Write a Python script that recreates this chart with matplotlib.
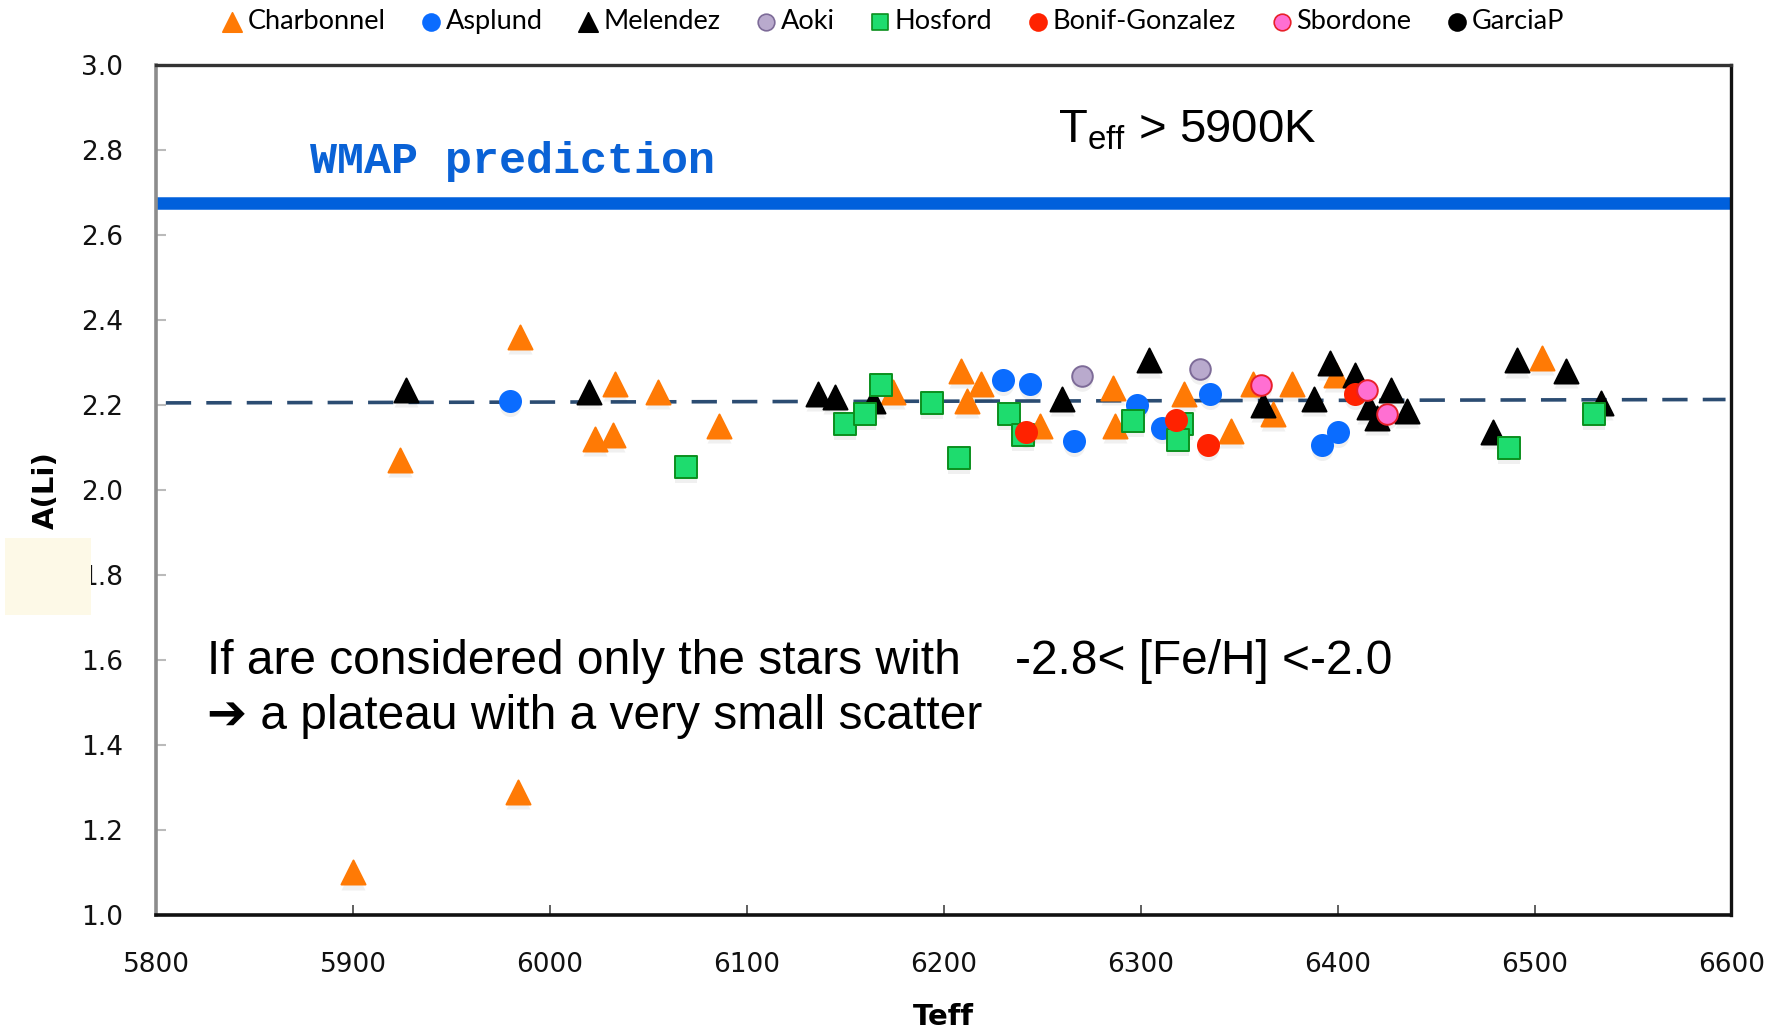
import matplotlib
matplotlib.use("Agg")
import matplotlib.pyplot as plt
from matplotlib.patches import Rectangle

# ---------------- data ----------------
charbonnel_teff = [5900, 5984, 5985, 5924, 6023, 6032, 6033, 6055, 6086, 6174, 6209, 6219, 6212,
                   6249, 6286, 6287, 6322, 6346, 6357, 6367, 6377, 6399, 6504]
charbonnel_ali = [1.10, 1.29, 2.36, 2.07, 2.12, 2.13, 2.25, 2.23, 2.15, 2.23, 2.28, 2.25, 2.21,
                  2.15, 2.24, 2.15, 2.225, 2.14, 2.25, 2.18, 2.25, 2.27, 2.31]

asplund_teff = [5980, 6230, 6244, 6266, 6298, 6311, 6335, 6392, 6400]
asplund_ali = [2.21, 2.26, 2.25, 2.115, 2.20, 2.145, 2.225, 2.107, 2.137]

melendez_teff = [5927, 6020, 6136, 6145, 6164, 6260, 6304, 6388, 6396, 6409, 6427, 6435, 6416,
                 6362, 6420, 6491, 6516, 6479, 6534]
melendez_ali = [2.235, 2.23, 2.225, 2.22, 2.21, 2.215, 2.305, 2.215, 2.30, 2.27, 2.235, 2.185,
                2.195, 2.20, 2.17, 2.305, 2.28, 2.137, 2.205]

aoki_teff = [6270, 6330]
aoki_ali = [2.268, 2.285]

hosford_teff = [6069, 6150, 6160, 6168, 6194, 6208, 6233, 6240, 6296, 6321, 6319, 6487, 6530]
hosford_ali = [2.055, 2.155, 2.18, 2.247, 2.205, 2.075, 2.18, 2.13, 2.163, 2.155, 2.118, 2.10, 2.18]

bonif_teff = [6242, 6318, 6334, 6409]
bonif_ali = [2.137, 2.165, 2.107, 2.225]

sbordone_teff = [6361, 6415, 6425]
sbordone_ali = [2.247, 2.235, 2.18]

garciap_teff = []
garciap_ali = []

wmap_value = 2.675
plateau_teff = [5805, 6597]
plateau_ali = [2.205, 2.213]

x_ticks = [5800, 5900, 6000, 6100, 6200, 6300, 6400, 6500, 6600]
y_ticks = [1.0, 1.2, 1.4, 1.6, 1.8, 2.0, 2.2, 2.4, 2.6, 2.8, 3.0]

# ---------------- figure ----------------
plt.rcParams['mathtext.fontset'] = 'custom'
plt.rcParams['mathtext.rm'] = 'Liberation Sans'
plt.rcParams['mathtext.it'] = 'Liberation Sans'

fig = plt.figure(figsize=(17.85, 10.33), dpi=100)
ax = fig.add_axes([0.0874, 0.1143, 0.8826, 0.8227])

ax.set_xlim(5800, 6600)
ax.set_ylim(1.0, 3.0)

# reference lines
ax.axhline(wmap_value, color='#0060DC', lw=9, zorder=2)
ax.plot(plateau_teff, plateau_ali, color='#2B4C72', lw=2.6, dashes=(7, 4.2), zorder=2)

series = [
    (charbonnel_teff, charbonnel_ali, '^', '#FF7A05', '#FF7A05', 'Charbonnel', 300),
    (asplund_teff, asplund_ali, 'o', '#0A6CFF', '#0A6CFF', 'Asplund', 230),
    (melendez_teff, melendez_ali, '^', '#000000', '#000000', 'Melendez', 300),
    (aoki_teff, aoki_ali, 'o', '#B9AACD', '#7D6B98', 'Aoki', 220),
    (hosford_teff, hosford_ali, 's', '#1EDC6E', '#0B8F1E', 'Hosford', 230),
    (bonif_teff, bonif_ali, 'o', '#FF2200', '#FF2200', 'Bonif-Gonzalez', 230),
    (sbordone_teff, sbordone_ali, 'o', '#FF6FD2', '#E8202A', 'Sbordone', 220),
    (garciap_teff, garciap_ali, 'o', '#000000', '#000000', 'GarciaP', 230),
]

handles = []
for i, (xs, ys, m, fc, ec, lab, s) in enumerate(series):
    # subtle drop shadow
    if len(xs):
        ax.scatter(xs, [y - 0.012 for y in ys], marker=m, s=s, c='#000000', alpha=0.06,
                   linewidths=0, zorder=3 + i * 0.1)
    ax.scatter(xs, ys, marker=m, s=s, c=fc, edgecolors=ec, linewidths=1.4,
               zorder=4 + i * 0.1)
    h = ax.scatter([], [], marker=m, s=s * 0.65, c=fc, edgecolors=ec, linewidths=1.2, label=lab)
    handles.append(h)

# ticks
ax.set_xticks(x_ticks)
ax.set_xticklabels([str(v) for v in x_ticks])
ax.set_yticks(y_ticks)
ax.set_yticklabels([f"{v:.1f}" for v in y_ticks])
ax.tick_params(axis='x', direction='in', length=7, width=1.2, color='#444444', pad=27,
               labelsize=19, labelcolor='#111111')
ax.tick_params(axis='y', direction='in', length=7, width=1.5, color='#BBBBBB', pad=24,
               labelsize=19, labelcolor='#111111')
for lab in ax.get_xticklabels() + ax.get_yticklabels():
    lab.set_family('DejaVu Sans')

# spines
ax.spines['left'].set_color('#8C8C8C')
ax.spines['left'].set_linewidth(2.6)
ax.spines['top'].set_color('#333333')
ax.spines['top'].set_linewidth(2.4)
ax.spines['bottom'].set_color('#111111')
ax.spines['bottom'].set_linewidth(2.6)
ax.spines['right'].set_color('#111111')
ax.spines['right'].set_linewidth(2.4)

ax.set_xlabel('Teff', fontsize=21, fontweight='bold', family='DejaVu Sans')
ax.set_ylabel('A(Li)', fontsize=21, fontweight='bold', family='DejaVu Sans')
ax.xaxis.set_label_coords(0.5, -0.104)
ax.yaxis.set_label_coords(-0.061, 0.5)

# annotations
ax.text(5878, 2.745, 'WMAP prediction', color='#0A62D6', fontsize=32.4, fontweight='bold',
        family='Liberation Mono', va='baseline', ha='left')
ax.text(6258, 2.818, r'T$_{\mathrm{eff}}$ > 5900K', color='black', fontsize=34,
        family='Liberation Sans', va='baseline', ha='left')
ax.text(5826, 1.566, 'If are considered only the stars with', fontsize=34.5,
        family=['Liberation Sans', 'DejaVu Sans'], va='baseline', ha='left')
ax.text(6236, 1.566, '-2.8< [Fe/H] <-2.0', fontsize=34.5,
        family=['Liberation Sans', 'DejaVu Sans'], va='baseline', ha='left')
ax.text(5826, 1.437, '\u2794 a plateau with a very small scatter', fontsize=34.5,
        family=['Liberation Sans', 'DejaVu Sans'], va='baseline', ha='left')

# legend
leg = fig.legend(handles=handles, loc='center', bbox_to_anchor=(0.4995, 0.979), ncol=8,
                 frameon=False, handletextpad=0.05, columnspacing=1.18,
                 handlelength=1.0, borderaxespad=0, prop={'family': 'Lato', 'size': 19.5})

# pale patch at left
fig.add_artist(Rectangle((0.0028, 0.405), 0.048, 0.074, transform=fig.transFigure,
                         facecolor='#FDF9E7', edgecolor='none', zorder=10))

fig.savefig('out.png', dpi=100)
